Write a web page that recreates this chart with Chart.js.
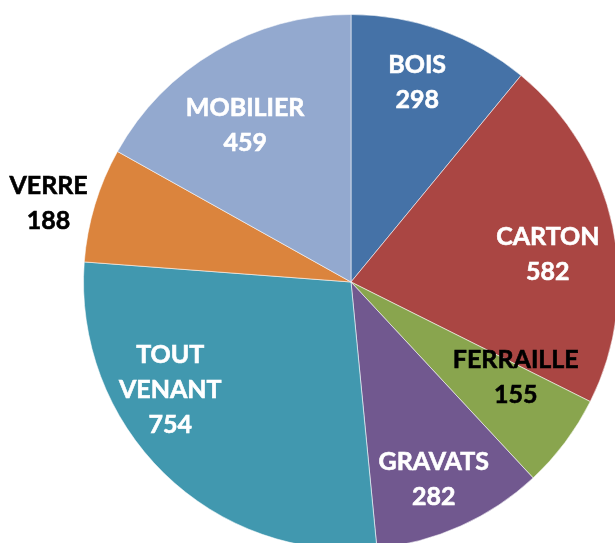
<!DOCTYPE html>
<html>
<head>
<meta charset="utf-8">
<script src="https://cdn.jsdelivr.net/npm/chart.js@4/dist/chart.umd.min.js"></script>
<style>
html,body{margin:0;padding:0;background:#fff;overflow:hidden;width:615px;height:543px;}
#wrap{position:absolute;left:0;top:0;width:702px;height:564px;}
</style>
</head>
<body>
<div id="wrap"><canvas id="c" width="702" height="564"></canvas></div>
<script>
const categories = ["BOIS", "CARTON", "FERRAILLE", "GRAVATS", "TOUT VENANT", "VERRE", "MOBILIER"];
const labelLines = [["BOIS"], ["CARTON"], ["FERRAILLE"], ["GRAVATS"], ["TOUT", "VENANT"], ["VERRE"], ["MOBILIER"]];
const values = [298, 582, 155, 282, 754, 188, 459];
const colors = ["#4572A7", "#AA4643", "#89A54E", "#71588F", "#4198AF", "#DB843D", "#93A9CF"];
const textColors = ["#fff", "#fff", "#000", "#fff", "#fff", "#000", "#fff"];
// label placement: angle offset (deg) from slice middle, radius factor
const labelPlace = [
  {da: -1.4, rf: 0.786},
  {da: 4.0, rf: 0.743},
  {da: -6.7, rf: 0.712},
  {da: 1.5, rf: 0.80},
  {da: 14.8, rf: 0.787},
  {da: -2.2, rf: 1.168},
  {da: -3.7, rf: 0.706}
];

const labelPlugin = {
  id: 'sliceLabels',
  afterDatasetsDraw(chart) {
    const ctx = chart.ctx;
    const meta = chart.getDatasetMeta(0);
    ctx.save();
    ctx.font = 'bold 25px Lato, "Open Sans", sans-serif';
    ctx.textAlign = 'center';
    ctx.textBaseline = 'middle';
    const lh = 35;
    meta.data.forEach((arc, i) => {
      const p = arc.getProps(['x', 'y', 'startAngle', 'endAngle', 'outerRadius'], true);
      const mid = (p.startAngle + p.endAngle) / 2 + labelPlace[i].da * Math.PI / 180;
      const r = p.outerRadius * labelPlace[i].rf;
      const cx = p.x + Math.cos(mid) * r;
      const cy = p.y + Math.sin(mid) * r;
      const lines = labelLines[i].concat([String(values[i])]);
      const y0 = cy - (lines.length - 1) * lh / 2;
      ctx.fillStyle = textColors[i];
      ctx.strokeStyle = textColors[i];
      ctx.lineWidth = 0.6;
      lines.forEach((t, k) => {
        ctx.fillText(t, cx, y0 + k * lh);
        ctx.strokeText(t, cx, y0 + k * lh);
      });
    });
    ctx.restore();
  }
};

new Chart(document.getElementById('c'), {
  type: 'pie',
  data: {
    labels: categories,
    datasets: [{
      data: values,
      backgroundColor: colors,
      borderColor: 'rgba(255,255,255,0.55)',
      borderWidth: 1
    }]
  },
  options: {
    responsive: false,
    animation: false,
    layout: {padding: {top: 14, bottom: 14, left: 83, right: 83}},
    plugins: {legend: {display: false}, tooltip: {enabled: false}}
  },
  plugins: [labelPlugin]
});
</script>
</body>
</html>
